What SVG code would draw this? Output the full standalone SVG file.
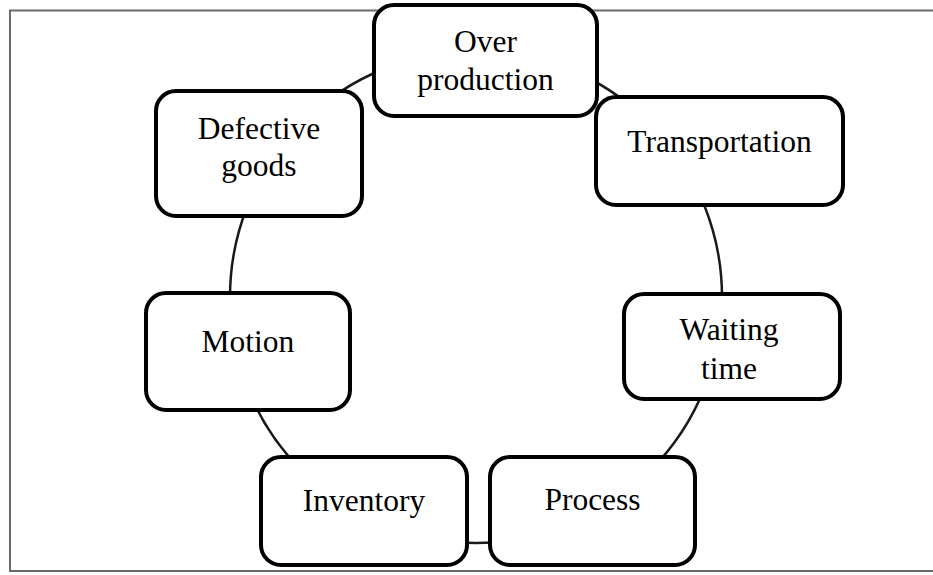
<svg xmlns="http://www.w3.org/2000/svg" width="933" height="575" viewBox="0 0 933 575">
  <style>
    .frame { fill: none; stroke: #6a6a6a; stroke-width: 2; }
    .ring { fill: none; stroke: #1a1a1a; stroke-width: 2.5; }
    .box { fill: #fff; stroke: #000; stroke-width: 4; }
    .label { font-family: "Liberation Serif", "Times New Roman", serif; font-size: 31.5px; fill: #000; text-anchor: middle; }
  </style>
  <rect width="933" height="575" fill="#fff"/>
  <!-- page frame: top, left and bottom edges -->
  <path class="frame" d="M933 10.5 H10 V571 H933"/>
  <!-- connectors: one ring linking every box -->
  <g id="connectors">
    <circle class="ring" cx="476" cy="297" r="246"/>
  </g>
  <g id="over-production">
    <rect class="box" x="374" y="5" width="223" height="111" rx="20"/>
    <text class="label" x="485.5" y="52">Over</text>
    <text class="label" x="485.5" y="90">production</text>
  </g>
  <g id="transportation">
    <rect class="box" x="596" y="97" width="247" height="108" rx="20"/>
    <text class="label" x="719.5" y="152">Transportation</text>
  </g>
  <g id="defective-goods">
    <rect class="box" x="156" y="91" width="206" height="125" rx="20"/>
    <text class="label" x="259" y="139">Defective</text>
    <text class="label" x="259" y="176">goods</text>
  </g>
  <g id="motion">
    <rect class="box" x="146" y="293" width="204" height="117" rx="20"/>
    <text class="label" x="248" y="352">Motion</text>
  </g>
  <g id="waiting-time">
    <rect class="box" x="624" y="294" width="216" height="105" rx="20"/>
    <text class="label" x="729" y="340">Waiting</text>
    <text class="label" x="729" y="379">time</text>
  </g>
  <g id="inventory">
    <rect class="box" x="261" y="457" width="206" height="108" rx="20"/>
    <text class="label" x="364" y="511">Inventory</text>
  </g>
  <g id="process">
    <rect class="box" x="490" y="457" width="205" height="108" rx="20"/>
    <text class="label" x="592.5" y="510">Process</text>
  </g>
</svg>
